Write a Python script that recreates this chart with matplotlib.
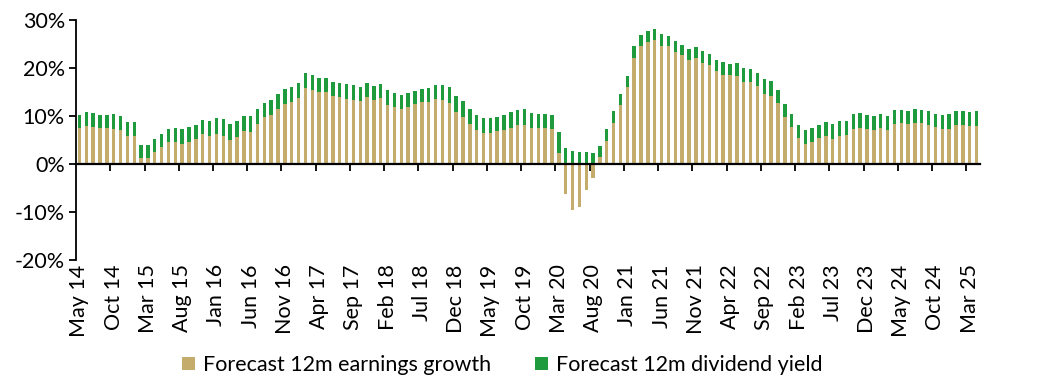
import matplotlib
matplotlib.use("Agg")
import matplotlib.pyplot as plt
import numpy as np
import pandas as pd
from matplotlib.ticker import FuncFormatter

plt.rcParams["font.family"] = ["Lato", "DejaVu Sans"]

# monthly, May 2014 .. Apr 2025
months = pd.date_range("2014-05-01", periods=132, freq="MS")
month_labels = [d.strftime("%b %y") for d in months]

earnings_growth = [
    7.5, 7.9, 7.8, 7.5, 7.5, 7.3, 7.1, 5.9, 5.9, 1.3, 1.3, 2.6, 3.6, 4.6, 4.6, 4.2,
    4.6, 5.2, 6.2, 5.8, 6.2, 5.8, 5.0, 5.6, 6.9, 6.7, 8.3, 9.8, 10.2, 11.4, 12.5, 12.9,
    13.7, 15.8, 15.4, 15.0, 15.0, 14.1, 13.9, 13.5, 13.3, 13.1, 13.9, 13.3, 13.7, 12.3,
    11.9, 11.4, 11.9, 12.5, 12.9, 12.9, 13.5, 13.3, 12.7, 10.8, 9.8, 8.3, 7.1, 6.4, 6.4,
    6.9, 7.1, 7.5, 8.1, 8.1, 7.5, 7.5, 7.5, 7.3, 2.3, -6.2, -9.6, -8.9, -5.4, -2.8, 1.5,
    4.8, 8.5, 12.3, 16.0, 22.0, 24.5, 25.4, 25.8, 24.7, 24.5, 23.3, 22.7, 21.6, 22.0,
    21.0, 20.6, 19.3, 18.5, 18.5, 18.3, 17.0, 17.0, 16.2, 14.7, 14.1, 12.7, 9.8, 7.7,
    5.4, 4.2, 4.6, 5.4, 5.8, 5.2, 5.8, 6.0, 7.3, 7.5, 7.3, 7.1, 7.5, 7.1, 8.3, 8.5, 8.3,
    8.5, 8.5, 8.1, 7.7, 7.3, 7.3, 8.1, 8.1, 7.9, 7.9,
]
dividend_yield = [
    2.7, 2.9, 2.8, 2.7, 2.7, 3.2, 2.9, 2.9, 2.9, 2.7, 2.7, 2.6, 2.6, 2.7, 2.9, 3.1,
    3.1, 2.9, 2.9, 3.1, 3.4, 3.6, 3.3, 3.3, 3.1, 3.3, 3.1, 2.9, 3.1, 3.2, 3.1, 3.1,
    3.1, 3.1, 3.1, 2.9, 2.9, 2.9, 2.9, 3.1, 3.1, 2.9, 2.9, 2.9, 2.9, 3.1, 2.9, 2.9,
    2.9, 2.7, 2.7, 2.9, 2.9, 3.1, 3.3, 3.3, 3.3, 3.1, 3.1, 3.2, 3.2, 2.9, 3.1, 3.3,
    3.1, 3.3, 3.1, 2.9, 2.9, 2.9, 4.4, 3.3, 2.7, 2.5, 2.5, 2.3, 2.2, 2.5, 2.5, 2.3,
    2.3, 2.5, 2.3, 2.3, 2.3, 2.3, 2.1, 2.3, 2.2, 2.3, 2.3, 2.5, 2.3, 2.3, 2.7, 2.3,
    2.7, 3.0, 2.8, 2.7, 3.0, 3.2, 2.7, 2.7, 2.7, 2.7, 2.9, 2.9, 2.7, 2.9, 3.1, 3.1,
    2.9, 3.1, 3.1, 2.9, 2.9, 2.9, 2.9, 2.9, 2.7, 2.7, 2.9, 2.7, 2.9, 2.7, 2.9, 3.1,
    2.9, 2.9, 2.9, 3.1,
]

c_earn = "#C4AC6D"
c_div = "#1F9B3E"
fs = 15.5

fig = plt.figure(figsize=(10.4, 3.86), dpi=100)
ax = fig.add_axes([0.0731, 0.326, 0.8692, 0.622])

x = np.arange(len(months))
earn = np.array(earnings_growth)
div_bottom = np.clip(earn, 0, None)
ax.bar(x, earn, width=0.5, color=c_earn, label="Forecast 12m earnings growth", zorder=2)
ax.bar(x, dividend_yield, width=0.5, bottom=div_bottom, color=c_div,
       label="Forecast 12m dividend yield", zorder=2)

ax.set_xlim(-0.5, len(months) - 0.5)
ax.set_ylim(-20, 30)
ax.set_yticks([-20, -10, 0, 10, 20, 30])
ax.yaxis.set_major_formatter(FuncFormatter(lambda v, p: f"{v:.0f}%"))
ax.tick_params(axis="y", direction="out", length=5, width=1.3, labelsize=fs, pad=3)

for s in ["top", "right"]:
    ax.spines[s].set_visible(False)
ax.spines["left"].set_linewidth(1.3)
ax.spines["bottom"].set_position(("data", 0))
ax.spines["bottom"].set_linewidth(1.6)
ax.spines["bottom"].set_zorder(3)

ax.set_xticks(np.arange(5, len(months), 5) - 0.5)
ax.set_xticklabels([])
ax.tick_params(axis="x", direction="out", length=5, width=1.3)

sec = ax.secondary_xaxis("bottom")
sec.set_xticks(x[::5], [month_labels[i] for i in x[::5]], rotation=90)
sec.tick_params(length=0, pad=3, labelsize=fs)
sec.spines["bottom"].set_visible(False)

fig.legend(loc="center", bbox_to_anchor=(0.483, 0.054), ncol=2, frameon=False,
           fontsize=fs, handlelength=0.6, handleheight=0.6, handletextpad=0.4,
           columnspacing=2.0)

fig.savefig("out.png", dpi=100)
